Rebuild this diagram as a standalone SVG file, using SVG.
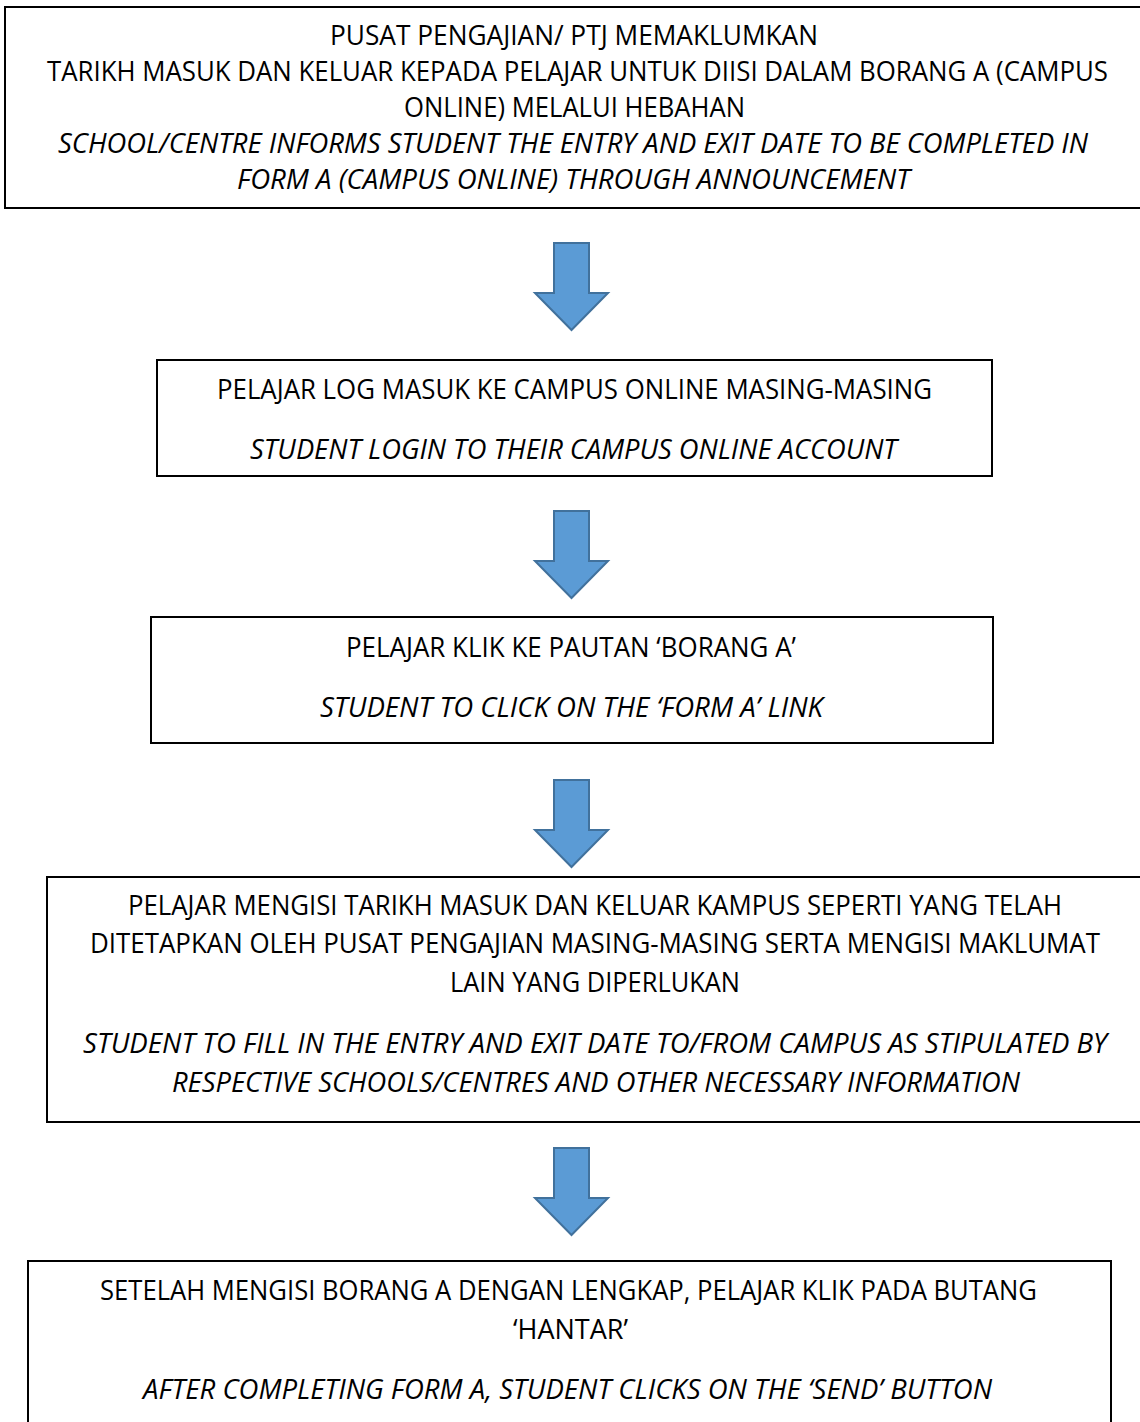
<svg xmlns="http://www.w3.org/2000/svg" width="1140" height="1422" viewBox="0 0 1140 1422">
<style>
.box{fill:#ffffff;stroke:#000000;stroke-width:2}
.t{font-family:"Open Sans","Liberation Sans",sans-serif;font-size:26.5px;fill:#000000}
.i{font-style:italic}
.arr{fill:#5B9BD5;stroke:#41719C;stroke-width:2;stroke-linejoin:miter}
</style>
<rect width="1140" height="1422" fill="#ffffff"/>
<g id="node1">
<rect class="box" x="5" y="7" width="1145" height="201"/>
<text class="t" x="330" y="44.5" textLength="488" lengthAdjust="spacingAndGlyphs">PUSAT PENGAJIAN/ PTJ MEMAKLUMKAN</text>
<text class="t" x="47" y="80.5" textLength="1061" lengthAdjust="spacingAndGlyphs">TARIKH MASUK DAN KELUAR KEPADA PELAJAR UNTUK DIISI DALAM BORANG A (CAMPUS</text>
<text class="t" x="404" y="116.5" textLength="341" lengthAdjust="spacingAndGlyphs">ONLINE) MELALUI HEBAHAN</text>
<text class="t i" x="58" y="152.5" textLength="1030" lengthAdjust="spacingAndGlyphs">SCHOOL/CENTRE INFORMS STUDENT THE ENTRY AND EXIT DATE TO BE COMPLETED IN</text>
<text class="t i" x="237" y="188.5" textLength="673" lengthAdjust="spacingAndGlyphs">FORM A (CAMPUS ONLINE) THROUGH ANNOUNCEMENT</text>
</g>
<g id="node2">
<rect class="box" x="157" y="360" width="835" height="116"/>
<text class="t" x="217" y="399" textLength="715" lengthAdjust="spacingAndGlyphs">PELAJAR LOG MASUK KE CAMPUS ONLINE MASING-MASING</text>
<text class="t i" x="250" y="459" textLength="647" lengthAdjust="spacingAndGlyphs">STUDENT LOGIN TO THEIR CAMPUS ONLINE ACCOUNT</text>
</g>
<g id="node3">
<rect class="box" x="151" y="617" width="842" height="126"/>
<text class="t" x="346" y="656.5" textLength="450" lengthAdjust="spacingAndGlyphs">PELAJAR KLIK KE PAUTAN ‘BORANG A’</text>
<text class="t i" x="320" y="716.5" textLength="503" lengthAdjust="spacingAndGlyphs">STUDENT TO CLICK ON THE ‘FORM A’ LINK</text>
</g>
<g id="node4">
<rect class="box" x="47" y="877" width="1103" height="245"/>
<text class="t" x="128" y="914.5" textLength="934" lengthAdjust="spacingAndGlyphs">PELAJAR MENGISI TARIKH MASUK DAN KELUAR KAMPUS SEPERTI YANG TELAH</text>
<text class="t" x="90" y="953" textLength="1010" lengthAdjust="spacingAndGlyphs">DITETAPKAN OLEH PUSAT PENGAJIAN MASING-MASING SERTA MENGISI MAKLUMAT</text>
<text class="t" x="450" y="991.5" textLength="290" lengthAdjust="spacingAndGlyphs">LAIN YANG DIPERLUKAN</text>
<text class="t i" x="83" y="1052.5" textLength="1024" lengthAdjust="spacingAndGlyphs">STUDENT TO FILL IN THE ENTRY AND EXIT DATE TO/FROM CAMPUS AS STIPULATED BY</text>
<text class="t i" x="172" y="1091.5" textLength="848" lengthAdjust="spacingAndGlyphs">RESPECTIVE SCHOOLS/CENTRES AND OTHER NECESSARY INFORMATION</text>
</g>
<g id="node5">
<rect class="box" x="28" y="1261" width="1083" height="180"/>
<text class="t" x="100" y="1299.5" textLength="937" lengthAdjust="spacingAndGlyphs">SETELAH MENGISI BORANG A DENGAN LENGKAP, PELAJAR KLIK PADA BUTANG</text>
<text class="t" x="513" y="1338.5" textLength="115" lengthAdjust="spacingAndGlyphs">‘HANTAR’</text>
<text class="t i" x="143" y="1399" textLength="849" lengthAdjust="spacingAndGlyphs">AFTER COMPLETING FORM A, STUDENT CLICKS ON THE ‘SEND’ BUTTON</text>
</g>
<g id="connectors">
<path class="arr" d="M554,243 H589 V293 H608 L571.5,330 L535,293 H554 Z"/>
<path class="arr" d="M554,511 H589 V561 H608 L571.5,598 L535,561 H554 Z"/>
<path class="arr" d="M554,780 H589 V830 H608 L571.5,867 L535,830 H554 Z"/>
<path class="arr" d="M554,1148 H589 V1198 H608 L571.5,1235 L535,1198 H554 Z"/>
</g>
</svg>
